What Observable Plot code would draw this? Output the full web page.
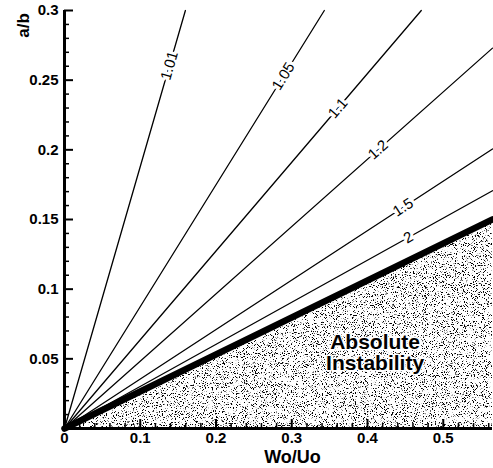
<!DOCTYPE html>
<html>
<head>
<meta charset="utf-8">
<script src="https://cdn.jsdelivr.net/npm/d3@7"></script>
<script src="https://cdn.jsdelivr.net/npm/@observablehq/plot@0.6"></script>
<style>
  html, body { margin: 0; padding: 0; background: #fff; }
</style>
</head>
<body>
<div id="chart"></div>
<script>
// ---- data ----
const levels   = ["1.01", "1.05", "1.1", "1.2", "1.5", "2"];
const endX     = [0.1596, 0.343, 0.471, 0.565, 0.565, 0.565];   // Wo/Uo at line end
const endY     = [0.300, 0.300, 0.300, 0.273, 0.2006, 0.1706];  // a/b at line end
const labelX   = [0.1385, 0.289, 0.361, 0.414, 0.447, 0.454];   // Wo/Uo of contour label
const boundaryEnd = [0.565, 0.150];                              // thick boundary line end (Wo/Uo, a/b)
const xTicks   = [0, 0.1, 0.2, 0.3, 0.4, 0.5];
const yTicks   = [0, 0.05, 0.1, 0.15, 0.2, 0.25, 0.3];
const regionLines = ["Absolute", "Instability"];
const regionPos   = [0.41, 0.055];

// ---- layout ----
const W = 493, H = 468, ML = 64, MR = 1, MT = 10, MB = 40;
const XMAX = 0.565, YMAX = 0.3;
const kx = (W - ML - MR) / XMAX, ky = (H - MT - MB) / YMAX;

const lines = levels.flatMap((lv, i) => [
  {level: lv, x: 0, y: 0},
  {level: lv, x: endX[i], y: endY[i]}
]);
const labels = levels.map((lv, i) => {
  const s = endY[i] / endX[i];
  return {level: lv, x: labelX[i], y: labelX[i] * s,
          angle: -Math.atan2(s * ky, kx) * 180 / Math.PI};
});
const boundary = [{x: 0, y: 0}, {x: boundaryEnd[0], y: boundaryEnd[1]}];

const xMinor = d3.range(0, XMAX, 0.02).filter(v => Math.abs(v * 10 - Math.round(v * 10)) > 1e-6);
const yMinor = d3.range(0, YMAX + 1e-9, 0.01).filter(v => Math.abs(v * 20 - Math.round(v * 20)) > 1e-6);

const svg = Plot.plot({
  width: W, height: H,
  marginLeft: ML, marginRight: MR, marginTop: MT, marginBottom: MB,
  style: {fontFamily: "'Liberation Sans', Arial, sans-serif", fontSize: "15px", fontWeight: "bold", background: "#fff", color: "#000"},
  x: {domain: [0, XMAX], ticks: xTicks, tickFormat: d => String(d), tickSize: 0, tickPadding: 4, label: null},
  y: {domain: [0, YMAX], ticks: yTicks, tickFormat: d => d === 0 ? "" : String(d), tickSize: 0, tickPadding: 6, label: null},
  marks: [
    Plot.areaY(boundary, {x: "x", y1: 0, y2: "y", fill: "#777"}),
    Plot.line(lines, {x: "x", y: "y", z: "level", stroke: "#000", strokeWidth: 1.3}),
    Plot.line(boundary, {x: "x", y: "y", stroke: "#000", strokeWidth: 6.5}),
    Plot.text(labels, {x: "x", y: "y", text: "level", rotate: "angle", fontSize: 15, fontWeight: "normal",
                       fill: "#000", stroke: "#fff", strokeWidth: 6}),
    Plot.text([regionLines[0]], {x: () => regionPos[0], y: () => regionPos[1], dy: -10, text: d => d, fontSize: 21, fontWeight: "bold",
                       fill: "#000", stroke: "#fff", strokeWidth: 3}),
    Plot.text([regionLines[1]], {x: () => regionPos[0], y: () => regionPos[1], dy: 11, text: d => d, fontSize: 21, fontWeight: "bold",
                       fill: "#000", stroke: "#fff", strokeWidth: 3}),
    // tick marks (inward)
    Plot.ruleY(yTicks, {y: d => d, x1: 0, x2: 9 / kx, stroke: "#000", strokeWidth: 2}),
    Plot.ruleY(yMinor, {y: d => d, x1: 0, x2: 5 / kx, stroke: "#000", strokeWidth: 1.5}),
    Plot.ruleX(xTicks, {x: d => d, y1: 0, y2: 9 / ky, stroke: "#000", strokeWidth: 2}),
    Plot.ruleX(xMinor, {x: d => d, y1: 0, y2: 5 / ky, stroke: "#000", strokeWidth: 1.5}),
    // axis lines
    Plot.ruleY([0], {stroke: "#000", strokeWidth: 3}),
    Plot.ruleX([0], {stroke: "#000", strokeWidth: 3}),
    // axis titles
    Plot.text(["a/b"], {frameAnchor: "top-left", dx: -41, dy: 15, rotate: -90, text: d => d,
                        textAnchor: "middle", lineAnchor: "middle", fontSize: 17, fontWeight: "bold", fill: "#000"}),
    Plot.text(["Wo/Uo"], {frameAnchor: "bottom", dx: 14, dy: 29, text: d => d,
                        textAnchor: "middle", lineAnchor: "middle", fontSize: 18, fontWeight: "bold", fill: "#000"})
  ]
});

// stipple texture for the absolute-instability region
const defs = d3.select(svg).insert("defs", ":first-child");
const f = defs.append("filter").attr("id", "stipple")
  .attr("x", "0").attr("y", "0").attr("width", "1").attr("height", "1");
f.append("feTurbulence").attr("type", "fractalNoise").attr("baseFrequency", "0.9")
  .attr("numOctaves", "2").attr("seed", "7").attr("result", "noise");
f.append("feColorMatrix").attr("in", "noise").attr("type", "matrix")
  .attr("values", "0 0 0 0 0  0 0 0 0 0  0 0 0 0 0  12 0 0 0 -7.0").attr("result", "dots");
f.append("feComposite").attr("in", "dots").attr("in2", "SourceGraphic").attr("operator", "in");
d3.select(svg).selectAll("g[aria-label='area'] path").attr("filter", "url(#stipple)");

document.getElementById("chart").appendChild(svg);
</script>
</body>
</html>
